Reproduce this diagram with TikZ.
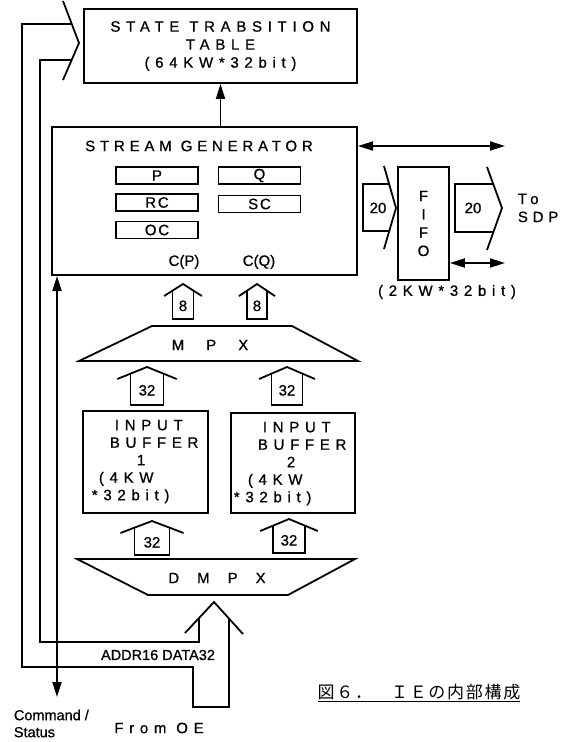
\documentclass[tikz,border=0pt]{standalone}
\usepackage{fontspec}
\setmainfont{Liberation Sans}[FakeBold=0.8]
\newfontfamily\wideA{Liberation Sans}[LetterSpace=38, FakeBold=0.8]
\newfontfamily\wideB{Liberation Sans}[LetterSpace=32, FakeBold=0.8]
\newfontfamily\wideC{Liberation Sans}[LetterSpace=12, FakeBold=0.8]
\newfontfamily\cjk{Noto Sans CJK JP}[LetterSpace=10]
\usepackage{tikz}
\usetikzlibrary{arrows.meta, positioning}

\begin{document}
\begin{tikzpicture}[
  x=1pt, y=-1pt,
  line width=1.8pt,
  >={Triangle[length=15pt,width=9pt]},
  blk/.style={rectangle, draw, inner sep=0pt},
  reg/.style={rectangle, draw, line width=1.5pt, minimum width=82pt,
              minimum height=17pt, inner sep=0pt,
              font=\fontsize{15}{15}\wideC},
  lbl/.style={inner sep=0pt, font=\fontsize{15}{18}\wideA},
  plain/.style={inner sep=0pt, font=\fontsize{15}{17}\selectfont},
  num/.style={inner sep=0pt, font=\fontsize{15}{15}\selectfont},
  arr/.style={->},
  dbl/.style={<->}
]
  \useasboundingbox (0,0) rectangle (567,742);

  % State table and stream generator
  \node[blk, minimum width=273pt, minimum height=74pt, align=center,
        font=\fontsize{15}{18}\wideA] (stt) at (220.5,46)
        {STATE TRABSITION\\TABLE\\(64KW*32bit)};
  \node[blk, line width=2pt, minimum width=305pt, minimum height=148pt] (sg) at (204.5,201) {};
  \node[inner sep=0pt, font=\fontsize{15}{18}\wideB] (sgt) at (199,146) {STREAM GENERATOR};

  \node[reg] (rP) at (157,175.5) {P};
  \node[reg] (rQ) at (259.5,175.5) {Q};
  \node[reg] (rRC) at (157,202.5) {RC};
  \node[reg] (rSC) at (259.5,204) {SC};
  \node[reg] (rOC) at (157,230) {OC};
  \node[plain] (cP) at (184,262) {C(P)};
  \node[plain] (cQ) at (259,262) {C(Q)};

  \draw[arr] (sg.north -| stt.south) -- (stt.south);

  % FIFO to SDP
  \node[blk, minimum width=51pt, minimum height=113pt, align=center,
        font=\fontsize{15}{18.3}\selectfont] (fifo) at (423.5,223.5) {F\\I\\F\\O};
  \node[lbl] (fifocap) at (447,292) {(2KW*32bit)};
  \node[lbl, anchor=west, align=left, font=\fontsize{15}{18}\wideB] (sdp) at (517,208) {To\\SDP};
  \coordinate (sdp1) at (505,146);
  \coordinate (sdp2) at (505,263);
  \draw[dbl] (sg.east |- sdp1) -- (sdp1);
  \draw[dbl] (fifo.east |- sdp2) -- (sdp2);

  \node[num] (w20a) at (378,208) {20};
  \draw (389,184) -- (363,184) -- (363,231) -- (389,231);
  \draw (384,166) -- (396,208) -- (384,249);
  \node[num] (w20b) at (473,208) {20};
  \draw (493,184) -- (455,184) -- (455,232) -- (493,232);
  \draw (487,167) -- (502,208) -- (487,250);

  % MPX, buffers, DMPX
  \draw (152,326) -- (292,326) -- (358,361) -- (79,361) -- cycle;
  \node[plain] (mpx) at (210,345) {M\hspace{22pt}P\hspace{22pt}X};

  \node[blk, minimum width=125pt, minimum height=102pt] (ib1) at (145.5,462) {};
  \node[blk, minimum width=124pt, minimum height=100pt] (ib2) at (293,463) {};
  \node[lbl, anchor=north west, align=left, font=\fontsize{15}{17.5}\wideA] (ib1t) at (91,419)
       {\hspace*{23pt}INPUT\\\hspace*{18pt}BUFFER\\\hspace*{45pt}1\\\hspace*{7pt}(4KW\\*32bit)};
  \node[lbl, anchor=north west, align=left, font=\fontsize{15}{17.5}\wideA] (ib2t) at (233,421)
       {\hspace*{29pt}INPUT\\\hspace*{24pt}BUFFER\\\hspace*{53pt}2\\\hspace*{14pt}(4KW\\*32bit)};

  \draw (77,559) -- (355,559) -- (288,595) -- (148,595) -- cycle;
  \node[plain] (dmpx) at (217,578) {D\hspace{18pt}M\hspace{18pt}P\hspace{18pt}X};

  % bus widths
  \foreach \nm/\cx/\py/\yb/\hw/\t in {h8a/183/284/319/10.5/8, h8b/257/284/319/10/8,
      h32a/147/367/405/16.5/32, h32b/287/367/405/15.5/32,
      h32c/152/521/555/17.5/32, h32d/289/519/553/16/32}{
    \draw ({\cx-1.8*\hw},{\py+12}) -- (\cx,\py) -- ({\cx+1.8*\hw},{\py+12});
    \draw ({\cx-\hw},{\py+6.7}) -- ({\cx-\hw},\yb) -- ({\cx+\hw},\yb) -- ({\cx+\hw},{\py+6.7});
    \node[num] (\nm) at (\cx,{(\py+6.7+\yb)/2+1}) {\t};
  }

  % OE bus
  \draw (72,24) -- (22,24) -- (22,667) -- (193,667) -- (193,707) -- (229,707) -- (229,618.5);
  \draw (243,634) -- (214,602) -- (185,633);
  \draw (199,618) -- (199,642) -- (40,642) -- (40,60) -- (72,60);
  \draw (63,1) -- (79,43) -- (63,80);
  \node[inner sep=0pt, font=\fontsize{14.5}{17}\selectfont] (bus) at (158,655) {ADDR16 DATA32};

  \coordinate (cmd) at (57,697);
  \draw[dbl] (sg.south -| cmd) -- (cmd);
  \node[inner sep=0pt, anchor=west, align=left, font=\fontsize{14.5}{17}\selectfont] (cmdt) at (13,723.5)
       {Command /\\Status};
  \node[lbl] (oe) at (159,728) {From OE};

  \node[inner sep=0pt, font=\fontsize{17}{17}\cjk] (cap) at (419,693)
       {\underline{図６．\hspace{19pt}ＩＥの内部構成}};
\end{tikzpicture}
\end{document}
